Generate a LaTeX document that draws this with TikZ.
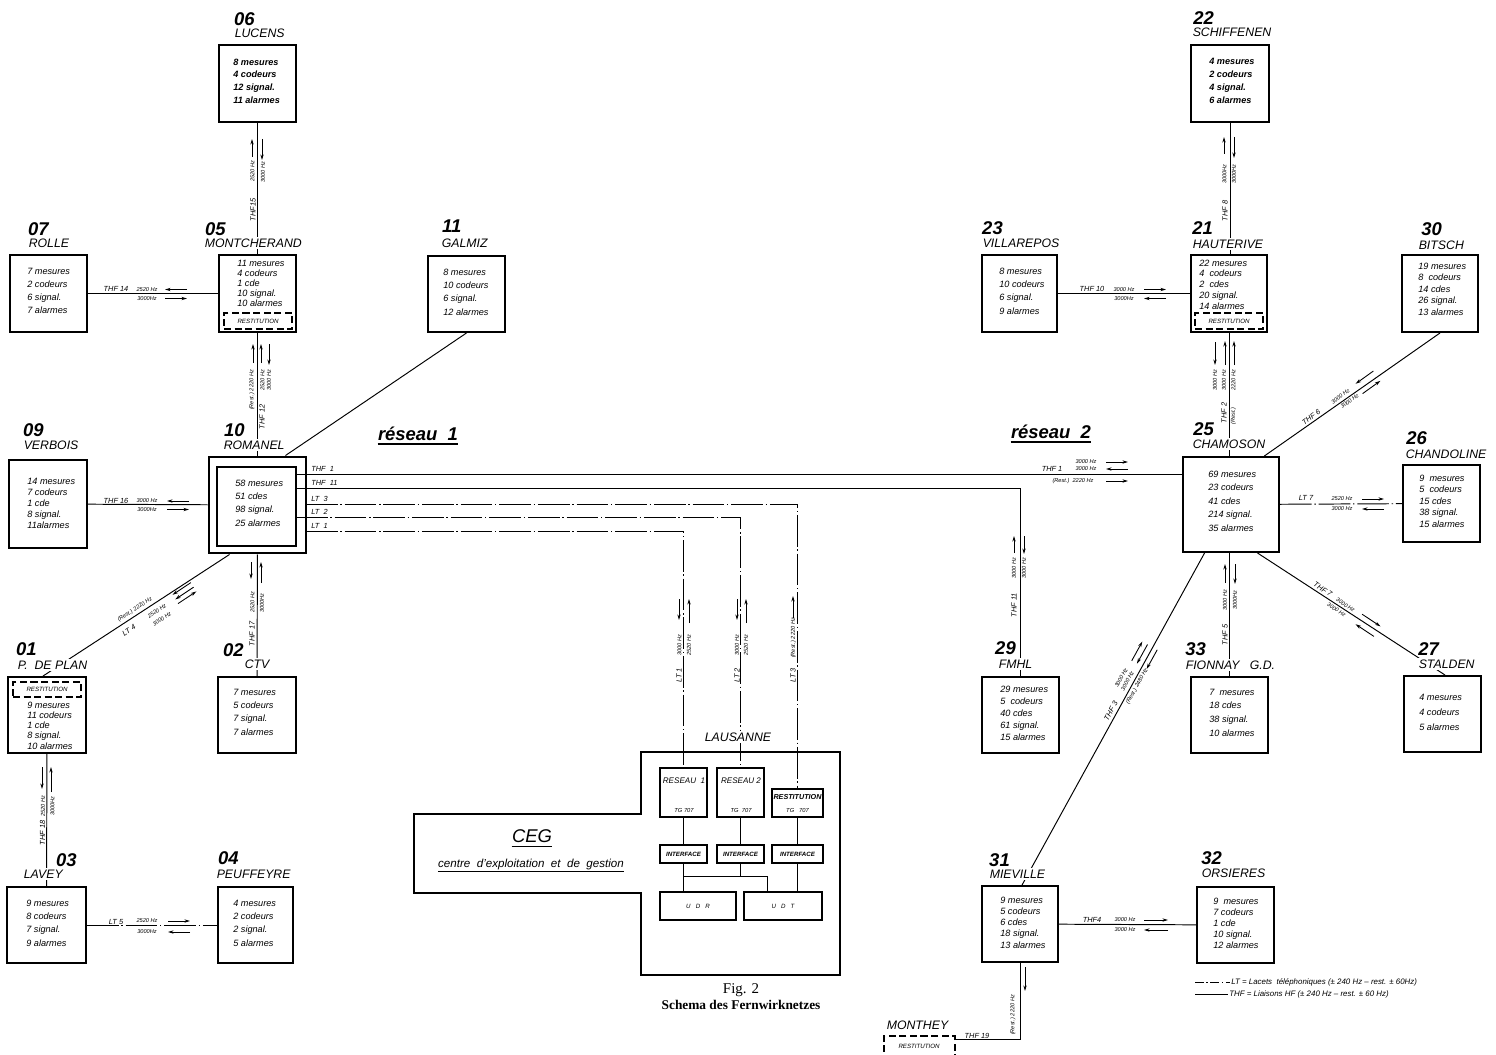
\documentclass[tikz,border=0pt]{standalone}
\usepackage{fontspec}
\setmainfont{Liberation Sans}
\newfontfamily\serifcap{Liberation Serif}
\usetikzlibrary{arrows.meta,calc}
\tikzset{
 stbox/.style={draw, line width=1.1pt, inner sep=0pt},
 ln/.style={line width=0.55pt},
 ltl/.style={line width=0.55pt, dash pattern=on 18pt off 1.6pt on 0.8pt off 1.6pt},
 arr/.style={line width=0.5pt, -{Stealth[length=3.2pt,width=1.9pt]}},
 num/.style={font=\fontsize{10.5}{10.5}\selectfont\bfseries\itshape, anchor=west, inner sep=0.5pt},
 nm/.style={font=\fontsize{7}{7}\selectfont\itshape, anchor=west, inner sep=0.8pt, fill=white},
 lbl/.style={font=\fontsize{4.2}{4.2}\selectfont\itshape, inner sep=0pt},
 fq/.style={font=\fontsize{3.2}{3.2}\selectfont\itshape, inner sep=0pt},
 rbox/.style={draw, line width=1pt, dash pattern=on 4pt off 2pt, inner sep=0pt},
 btxt/.style={anchor=west, inner sep=0pt, align=left},
 rtx/.style={font=\fontsize{3.5}{3.5}\selectfont\itshape, inner sep=0pt},
}
\newcommand\mkbox[6][]{\node[stbox,#1,minimum width={(#5-#3)*0.02cm},minimum height={(#6-#4)*0.02cm}] (#2) at ({(#3+#5)/2},{(#4+#6)/2}) {};}
\newcommand\btx[6][]{\node[btxt,font={\fontsize{5.2}{#5}\selectfont\itshape#1}] (#2) at (#3,#4) {#6};}
\begin{document}
\begin{tikzpicture}[x=0.02cm,y=-0.02cm]
\useasboundingbox (0,0) rectangle (1496,1054);
\clip (0,0) rectangle (1496,1054);
\fill[white] (0,0) rectangle (1496,1054);

% ---------------- station boxes
\mkbox{lucens}{219}{45}{296}{122}
\mkbox{rolle}{10}{255}{87}{332}
\mkbox{montch}{219}{255}{296}{332}
\mkbox{galmiz}{428}{256}{505}{332}
\mkbox{verbois}{9}{460}{87}{548}
\mkbox[line width=1.7pt]{romout}{209}{457}{306}{553}
\mkbox{rominn}{217}{467}{296}{546}
\mkbox{pdeplan}{8}{677}{86}{753}
\mkbox{ctv}{218}{677}{296}{753}
\mkbox{lavey}{7}{887}{86}{963}
\mkbox{peuff}{218}{887}{293}{963}
\mkbox{schiff}{1191}{45}{1269}{122}
\mkbox{villa}{982}{255}{1057}{332}
\mkbox{haut}{1191}{255}{1267}{332}
\mkbox{bitsch}{1402}{255}{1478}{332}
\mkbox{chamoson}{1183}{457}{1279}{552}
\mkbox{chandol}{1403}{465}{1480}{542}
\mkbox{fmhl}{982}{677}{1059}{753}
\mkbox{fionnay}{1191}{677}{1268}{753}
\mkbox{stalden}{1404}{676}{1481}{752}
\mkbox{mieville}{982}{886}{1058}{962}
\mkbox{orsieres}{1197}{887}{1274}{963}

% restitution dashed boxes
\mkbox[rbox]{rmont}{224}{313}{292}{329}
\mkbox[rbox]{rhaut}{1195}{313}{1263}{329}
\mkbox[rbox]{rpdp}{13}{682}{81}{697}
\mkbox[rbox]{rmonthey}{884}{1036}{955}{1064}

% ---------------- Lausanne / CEG
\draw[line width=1.3pt] (641,752) -- (840,752) -- (840,975) -- (641,975) -- (641,893) -- (414,893) -- (414,814) -- (641,814) -- cycle;
\mkbox[line width=0.9pt]{res1}{660}{768}{707}{817}
\mkbox[line width=0.9pt]{res2}{717}{768}{764}{817}
\mkbox[line width=1.5pt]{resti}{772}{789}{823}{817}
\mkbox{int1}{660}{845}{707}{863}
\mkbox{int2}{717}{845}{764}{863}
\mkbox{int3}{772}{845}{823}{863}
\mkbox[line width=0.9pt]{udr}{660}{892}{736}{920}
\mkbox[line width=0.9pt]{udt}{744}{892}{822}{920}
\coordinate (hbar) at (0,876);
\coordinate (uj) at ($(udt.north west)!0.3!(udt.north east)$);
\draw[ln] (res1) -- (int1);
\draw[ln] (int1.south) -- (int1.south |- udr.north);
\draw[ln] (res2) -- (int2);
\draw[ln] (int2.south) -- (int2.south |- hbar);
\draw[ln] (int1.south |- hbar) -- (hbar -| uj) -- (uj);
\draw[ln] (resti) -- (int3);
\draw[ln] (int3.south) -- (int3.south |- udt.north);

% ---------------- connectors
\draw[ln] (lucens) -- (montch);
\draw[ln] (rolle) -- (montch);
\draw[ln] (montch) -- (romout);
\draw[ln] (verbois) -- (romout);
\draw[ln] (romout) -- (ctv);
\draw[ln] (galmiz.south) -- ($(romout.north)!0.56!(romout.north east)$);
\coordinate (pd1) at ($(romout.south west)!0.22!(romout.south east)$);
\coordinate (pd2) at ($(pdeplan.north west)!0.45!(pdeplan.north east)$);
\draw[ln] (pd1) -- (pd2);
\draw[ln] (pdeplan) -- (lavey);
\draw[ltl] (lavey) -- (peuff);
\coordinate (t1) at (296,474);
\draw[ln] (t1) -- (t1 -| chamoson.west);
\coordinate (t11) at (296,488);
\draw[ln] (t11) -- (t11 -| fmhl.north) -- (fmhl.north);
\coordinate (l3) at (306,504);
\draw[ltl] (l3) -- (l3 -| resti.north) -- (resti.north);
\coordinate (l2) at (296,517);
\draw[ltl] (l2) -- (l2 -| res2.north) -- (res2.north);
\coordinate (l1) at (306,531);
\draw[ltl] (l1) -- (l1 -| res1.north) -- (res1.north);
\draw[ln] (schiff.south) -- (schiff.south |- haut.north);
\draw[ln] (villa) -- (haut);
\draw[ln] (haut.south) -- (haut.south |- chamoson.north);
\draw[ln] (bitsch.south) -- ($(chamoson.north west)!0.84!(chamoson.north east)$);
\draw[ltl] (chamoson) -- (chandol);
\draw[ln] (chamoson.south -| fionnay.north) -- (fionnay.north);
\draw[ln] ($(chamoson.south west)!0.77!(chamoson.south east)$) -- ($(stalden.north west)!0.532!(stalden.north east)$);
\draw[ln] ($(chamoson.south west)!0.23!(chamoson.south east)$) -- ($(mieville.north west)!0.526!(mieville.north east)$);
\draw[ln] (mieville) -- (orsieres);
\draw[ln] (mieville.south) |- ($(rmonthey.north east)+(0,4)$);

% ---------------- arrows
\draw[arr] (252,157) -- (252,139); \draw[arr] (262,139) -- (262,160);
\draw[arr] (187,289.5) -- (165,289.5); \draw[arr] (165,298.5) -- (187,298.5);
\draw[arr] (253,363) -- (253,344); \draw[arr] (261,363) -- (261,344); \draw[arr] (269,344) -- (269,365);
\draw[arr] (189,501) -- (167,501); \draw[arr] (167,509.5) -- (189,509.5);
\draw[arr] (251,562) -- (251,579); \draw[arr] (261,583) -- (261,562);
\draw[arr] (190.9,582.6) -- (172.5,594.8);
\draw[arr] (193.6,587.2) -- (175.2,599.4);
\draw[arr] (178.0,603.6) -- (196.4,591.4);
\draw[arr] (42,767) -- (42,789); \draw[arr] (51,792) -- (51,767);
\draw[arr] (168,921) -- (190,921); \draw[arr] (190,932) -- (168,932);
\draw[arr] (679,599) -- (679,620); \draw[arr] (689,623) -- (689,599);
\draw[arr] (737,599) -- (737,620); \draw[arr] (746,623) -- (746,599);
\draw[arr] (793,618) -- (793,596);
\draw[arr] (1224,154) -- (1224,137); \draw[arr] (1234,137) -- (1234,158);
\draw[arr] (1144,289.5) -- (1166,289.5); \draw[arr] (1166,298.5) -- (1144,298.5);
\draw[arr] (1215,342) -- (1215,365); \draw[arr] (1225,365) -- (1225,341); \draw[arr] (1234,365) -- (1234,341);
\draw[arr] (1373.4,371.0) -- (1355.6,383.8); \draw[arr] (1362.6,393.6) -- (1380.4,380.8);
\draw[arr] (1106,462) -- (1128,462); \draw[arr] (1128,469) -- (1106,469); \draw[arr] (1106,481) -- (1128,481);
\draw[arr] (1362,499) -- (1384,499); \draw[arr] (1384,509) -- (1362,509);
\draw[arr] (1014,553) -- (1014,536); \draw[arr] (1024,536) -- (1024,554);
\draw[arr] (1225,583) -- (1225,564); \draw[arr] (1235,564) -- (1235,584);
\draw[arr] (1362.1,614.2) -- (1380.5,626.4); \draw[arr] (1373.9,636.4) -- (1355.5,624.2);
\draw[arr] (1131.7,660.8) -- (1142.3,641.6); \draw[arr] (1147.5,644.5) -- (1136.9,663.7); \draw[arr] (1157.2,649.8) -- (1146.6,669.0);
\draw[arr] (1144,920) -- (1168,920); \draw[arr] (1168,930) -- (1144,930);
\draw[arr] (1025,967) -- (1025,991);

% ---------------- box contents
\btx[\bfseries]{lucens-t}{233}{81}{7.2pt}{8 mesures\\4 codeurs\\12 signal.\\11 alarmes}
\btx{rolle-t}{27}{290.5}{7.37pt}{7 mesures\\2 codeurs\\6 signal.\\7 alarmes}
\btx{montch-t}{237}{283.5}{5.8pt}{11 mesures\\4 codeurs\\1 cde\\10 signal.\\10 alarmes}
\btx{galmiz-t}{443}{292}{7.56pt}{8 mesures\\10 codeurs\\6 signal.\\12 alarmes}
\btx{verbois-t}{27}{503}{6.24pt}{14 mesures\\7 codeurs\\1 cde\\8 signal.\\11alarmes}
\btx{romanel-t}{235}{503}{7.56pt}{58 mesures\\51 cdes\\98 signal.\\25 alarmes}
\btx{pdeplan-t}{27}{725.5}{5.8pt}{9 mesures\\11 codeurs\\1 cde\\8 signal.\\10 alarmes}
\btx{ctv-t}{233}{712}{7.56pt}{7 mesures\\5 codeurs\\7 signal.\\7 alarmes}
\btx{lavey-t}{26}{923}{7.56pt}{9 mesures\\8 codeurs\\7 signal.\\9 alarmes}
\btx{peuff-t}{233}{923}{7.56pt}{4 mesures\\2 codeurs\\2 signal.\\5 alarmes}
\btx[\bfseries]{schiff-t}{1209}{80.5}{7.37pt}{4 mesures\\2 codeurs\\4 signal.\\6 alarmes}
\btx{villa-t}{999}{291}{7.56pt}{8 mesures\\10 codeurs\\6 signal.\\9 alarmes}
\btx{haut-t}{1199}{284.5}{6.1pt}{22 mesures\\4\ \ codeurs\\2\ \ cdes\\20 signal.\\14 alarmes}
\btx{bitsch-t}{1418}{289}{6.52pt}{19 mesures\\8\ \ codeurs\\14 cdes\\26 signal.\\13 alarmes}
\btx{chamoson-t}{1208}{501}{7.65pt}{69 mesures\\23 codeurs\\41 cdes\\214 signal.\\35 alarmes}
\btx{chandol-t}{1419}{501}{6.52pt}{9\ \ mesures\\5\ \ codeurs\\15 cdes\\38 signal.\\15 alarmes}
\btx{fmhl-t}{1000}{713}{6.8pt}{29 mesures\\5\ \ codeurs\\40 cdes\\61 signal.\\15 alarmes}
\btx{fionnay-t}{1209}{712.5}{7.75pt}{7\ \ mesures\\18 cdes\\38 signal.\\10 alarmes}
\btx{stalden-t}{1419}{712}{8.5pt}{4 mesures\\4 codeurs\\5 alarmes}
\btx{mieville-t}{1000}{922.5}{6.38pt}{9 mesures\\5 codeurs\\6 cdes\\18 signal.\\13 alarmes}
\btx{orsieres-t}{1213}{923}{6.24pt}{9\ \ mesures\\7 codeurs\\1 cde\\10 signal.\\12 alarmes}

\node[rtx] (rmont-t) at (rmont) {RESTITUTION};
\node[rtx] (rhaut-t) at (rhaut) {RESTITUTION};
\node[rtx] (rpdp-t) at (rpdp) {RESTITUTION};
\node[rtx] (rmonthey-t) at (919,1046) {RESTITUTION};

% ---------------- station numbers and names
\node[num] (n06) at (233,19) {06}; \node[nm] (m06) at (233,33) {LUCENS};
\node[num] (n07) at (27,229) {07}; \node[nm] (m07) at (27,243) {ROLLE};
\node[num] (n05) at (204,229) {05}; \node[nm] (m05) at (203,243) {MONTCHERAND};
\node[num] (n11) at (441,226) {11}; \node[nm] (m11) at (440,243) {GALMIZ};
\node[num] (n09) at (22,430) {09}; \node[nm] (m09) at (22,445) {VERBOIS};
\node[num] (n10) at (223,430) {10}; \node[nm] (m10) at (222,445) {ROMANEL};
\node[num] (n01) at (15,649) {01}; \node[nm] (m01) at (16,665) {P.\ \ DE\ PLAN};
\node[num] (n02) at (222,650) {02}; \node[nm] (m02) at (243,664) {CTV};
\node[num] (n03) at (55,860) {03}; \node[nm] (m03) at (22,874) {LAVEY};
\node[num] (n04) at (217,858) {04}; \node[nm] (m04) at (215,874) {PEUFFEYRE};
\node[num] (n22) at (1192,18) {22}; \node[nm] (m22) at (1191,32) {SCHIFFENEN};
\node[num] (n23) at (981,228) {23}; \node[nm] (m23) at (981,243) {VILLAREPOS};
\node[num] (n21) at (1191,228) {21}; \node[nm] (m21) at (1191,244) {HAUTERIVE};
\node[num] (n30) at (1420,229) {30}; \node[nm] (m30) at (1417,245) {BITSCH};
\node[num] (n25) at (1192,429) {25}; \node[nm] (m25) at (1191,444) {CHAMOSON};
\node[num] (n26) at (1405,438) {26}; \node[nm] (m26) at (1404,454) {CHANDOLINE};
\node[num] (n29) at (994,648) {29}; \node[nm] (m29) at (997,664) {FMHL};
\node[num] (n33) at (1184,649) {33}; \node[nm] (m33) at (1184,665) {FIONNAY\ \ \ G.D.};
\node[num] (n27) at (1417,649) {27}; \node[nm] (m27) at (1417,664) {STALDEN};
\node[num] (n31) at (988,860) {31}; \node[nm] (m31) at (988,874) {MIEVILLE};
\node[num] (n32) at (1200,858) {32}; \node[nm] (m32) at (1200,873) {ORSIERES};
\node[nm] (mmonthey) at (885,1025) {MONTHEY};

% ---------------- link labels
\node[fq,rotate=90] at (252.5,171) {2520 Hz};
\node[fq,rotate=90] at (263,172) {3000 Hz};
\node[lbl,rotate=90] at (253,210) {THF15};
\node[lbl] at (116,289) {THF 14};
\node[fq] at (147,289.5) {2520 Hz};
\node[fq] at (147,298.5) {3000Hz};
\node[fq,rotate=90] at (252,390) {(Rest.) 2220 Hz};
\node[fq,rotate=90] at (262.5,380) {2520 Hz};
\node[fq,rotate=90] at (269,380) {3000 Hz};
\node[lbl,rotate=90] at (262,417) {THF 12};
\node[lbl] at (116,501) {THF 16};
\node[fq] at (147,501) {3000 Hz};
\node[fq] at (147,509.5) {3000Hz};
\node[lbl,anchor=west] at (311,469) {THF\ \ 1};
\node[lbl,anchor=west] at (311,483) {THF\ \ 11};
\node[lbl,anchor=west] at (311,499) {LT\ \ 3};
\node[lbl,anchor=west] at (311,512) {LT\ \ 2};
\node[lbl,anchor=west] at (311,526) {LT\ \ 1};
\node[fq,rotate=90] at (252.5,602) {2520 Hz};
\node[fq,rotate=90] at (262,603) {3000Hz};
\node[lbl,rotate=90] at (252,634) {THF 17};
\node[fq,rotate=33.5] at (135,609.5) {(Rest.) 2220 Hz};
\node[fq,rotate=33.5] at (157,611) {2520 Hz};
\node[fq,rotate=33.5] at (162,619) {3000 Hz};
\node[lbl,rotate=33.5] at (129,630) {LT\ 4};
\node[fq,rotate=90] at (43,806) {2520 Hz};
\node[fq,rotate=90] at (52.5,806) {3000Hz};
\node[lbl,rotate=90] at (42.5,833) {THF 18};
\node[lbl] at (116,922) {LT\ 5};
\node[fq] at (147,921) {2520 Hz};
\node[fq] at (147,932) {3000Hz};
\node[fq,rotate=90] at (679.5,645) {3000 Hz};
\node[fq,rotate=90] at (689,645) {2520 Hz};
\node[lbl,rotate=90] at (679,675) {LT 1};
\node[fq,rotate=90] at (737,645) {3000 Hz};
\node[fq,rotate=90] at (746,645) {2520 Hz};
\node[lbl,rotate=90] at (737,675) {LT 2};
\node[fq,rotate=90] at (793.5,638) {(Rest.) 2220 Hz};
\node[lbl,rotate=90] at (793,675) {LT 3};
\node[fq,rotate=90] at (1224.5,174) {3000Hz};
\node[fq,rotate=90] at (1234,174) {3000Hz};
\node[lbl,rotate=90] at (1225,211) {THF\ 8};
\node[lbl] at (1092,289) {THF 10};
\node[fq] at (1124,289.5) {3000 Hz};
\node[fq] at (1124,298.5) {3000Hz};
\node[fq,rotate=90] at (1215,380) {3000 Hz};
\node[fq,rotate=90] at (1224,380) {3000 Hz};
\node[fq,rotate=90] at (1233.5,380) {2220 Hz};
\node[lbl,rotate=90] at (1224,413) {THF 2};
\node[fq,rotate=90] at (1233.5,416) {(Rest.)};
\node[lbl,rotate=35.7] at (1311.1,417.0) {THF\ 6};
\node[fq,rotate=35.7] at (1340.4,396.5) {3000 Hz};
\node[fq,rotate=35.7] at (1349.6,401.1) {3000 Hz};
\node[fq] at (1086,462) {3000 Hz};
\node[lbl] at (1052,468.5) {THF 1};
\node[fq] at (1086,469) {3000 Hz};
\node[fq] at (1073,481) {(Rest.)\ \ 2220 Hz};
\node[lbl] at (1306,498) {LT 7};
\node[fq] at (1342,499) {2520 Hz};
\node[fq] at (1342,509) {3000 Hz};
\node[fq,rotate=90] at (1014,568) {3000 Hz};
\node[fq,rotate=90] at (1024,568) {3000 Hz};
\node[lbl,rotate=90] at (1014,605) {THF 11};
\node[fq,rotate=90] at (1225,600) {3000 Hz};
\node[fq,rotate=90] at (1235,600) {3000Hz};
\node[lbl,rotate=90] at (1225,635) {THF 5};
\node[lbl,rotate=-33.4] at (1322.8,589.4) {THF 7};
\node[fq,rotate=-33.4] at (1345.5,605.0) {3000 Hz};
\node[fq,rotate=-33.4] at (1336.5,609.9) {3000 Hz};
\node[lbl,rotate=61.3] at (1110.9,711.1) {THF 3};
\node[fq,rotate=61.3] at (1121.3,677.8) {3000 Hz};
\node[fq,rotate=61.3] at (1127.4,681.1) {3000 Hz};
\node[fq,rotate=61.3] at (1137.1,686.4) {(Rest.) 2480 Hz};
\node[lbl] at (1092,920) {THF4};
\node[fq] at (1125,920) {3000 Hz};
\node[fq] at (1125,930) {3000 Hz};
\node[fq,rotate=90] at (1013,1015) {(Rest.) 2220 Hz};
\node[lbl] at (977,1036) {THF 19};

% ---------------- Lausanne texts
\node[nm,anchor=center] (laus) at (738,737) {LAUSANNE};
\node[font=\fontsize{4.6}{4.6}\selectfont\itshape, inner sep=0pt] at (684,781) {RESEAU\ \ 1};
\node[font=\fontsize{3.3}{3.3}\selectfont\itshape, inner sep=0pt] at (684,810) {TG 707};
\node[font=\fontsize{4.6}{4.6}\selectfont\itshape, inner sep=0pt] at (741,781) {RESEAU 2};
\node[font=\fontsize{3.3}{3.3}\selectfont\itshape, inner sep=0pt] at (741,810) {TG\ \ 707};
\node[font=\fontsize{4.1}{4.1}\selectfont\itshape\bfseries, inner sep=0pt] at (797.5,797) {RESTITUTION};
\node[font=\fontsize{3.3}{3.3}\selectfont\itshape, inner sep=0pt] at (797.5,810) {TG\ \ \ 707};
\node[font=\fontsize{3.5}{3.5}\selectfont\itshape\bfseries, inner sep=0pt] at (int1) {INTERFACE};
\node[font=\fontsize{3.5}{3.5}\selectfont\itshape\bfseries, inner sep=0pt] at (int2) {INTERFACE};
\node[font=\fontsize{3.5}{3.5}\selectfont\itshape\bfseries, inner sep=0pt] at (int3) {INTERFACE};
\node[font=\fontsize{3.5}{3.5}\selectfont\itshape, inner sep=0pt] at (udr) {U\ \ \ D\ \ \ R};
\node[font=\fontsize{3.5}{3.5}\selectfont\itshape, inner sep=0pt] at (udt) {U\ \ \ D\ \ \ T};
\node[font=\fontsize{10.5}{10.5}\selectfont\itshape, inner sep=0pt] (ceg) at (532,836) {CEG};
\draw[line width=0.8pt] ([yshift=-2.2pt]ceg.base west) -- ([yshift=-2.2pt]ceg.base east);
\node[font=\fontsize{6.6}{6.6}\selectfont\itshape, inner sep=0pt] (cegt) at (531,864) {centre\ \ d'exploitation\ \ et\ \ de\ \ gestion};
\draw[line width=0.6pt] ([yshift=-2.6pt]cegt.base west) -- ([yshift=-2.6pt]cegt.base east);

% ---------------- reseau labels
\node[font=\fontsize{10.5}{10.5}\selectfont\bfseries\itshape, inner sep=0pt] (res1lab) at (418,434) {réseau\ \ 1};
\draw[line width=0.8pt] ([yshift=-2pt]res1lab.base west) -- ([yshift=-2pt]res1lab.base east);
\node[font=\fontsize{10.5}{10.5}\selectfont\bfseries\itshape, inner sep=0pt] (res2lab) at (1051,432) {réseau\ \ 2};
\draw[line width=0.8pt] ([yshift=-2pt]res2lab.base west) -- ([yshift=-2pt]res2lab.base east);

% ---------------- legend
\coordinate (lg1) at (1195,982); \coordinate (lg2) at (1230,982);
\draw[line width=0.5pt, dash pattern=on 5pt off 1.5pt on 0.8pt off 1.5pt] (lg1) -- (lg2);
\node[font=\fontsize{4.5}{4.5}\selectfont\itshape, anchor=west, inner sep=0.5pt] at (lg2) {LT = Lacets\ \ téléphoniques (± 240 Hz – rest. ± 60Hz)};
\coordinate (lg3) at (1195,994); \coordinate (lg4) at (1228,994);
\draw[line width=0.5pt] (lg3) -- (lg4);
\node[font=\fontsize{4.5}{4.5}\selectfont\itshape, anchor=west, inner sep=0.5pt] at (lg4) {THF = Liaisons HF (± 240 Hz – rest. ± 60 Hz)};

% ---------------- caption
\node[font=\serifcap\fontsize{8.5}{8.5}\selectfont, inner sep=0pt] (fig) at (741,990) {Fig. 2};
\node[font=\serifcap\bfseries\fontsize{7.6}{7.6}\selectfont, inner sep=0pt] (cap) at (741,1005) {Schema des Fernwirknetzes};
\end{tikzpicture}
\end{document}
